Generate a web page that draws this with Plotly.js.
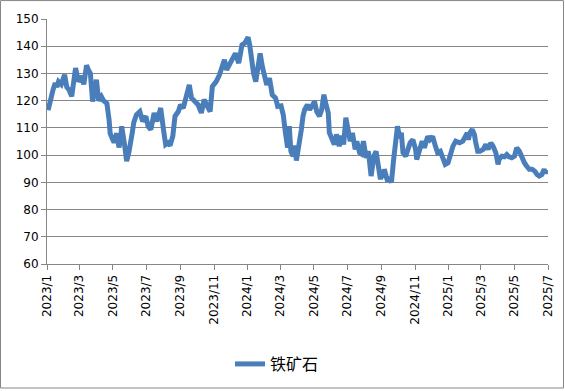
<!DOCTYPE html>
<html>
<head>
<meta charset="utf-8">
<script src="https://cdn.plot.ly/plotly-3.0.1.min.js"></script>
<style>html,body{margin:0;padding:0;background:#fff;}#chart{width:565px;height:391px;}</style>
</head>
<body>
<div id="chart"></div>
<script>
var seriesName = "铁矿石";
var dates = [
"2023-01-03","2023-01-05","2023-01-09","2023-01-12","2023-01-16","2023-01-19","2023-01-22","2023-01-27",
"2023-02-02","2023-02-06","2023-02-10","2023-02-15","2023-02-18","2023-02-22","2023-02-27",
"2023-03-02","2023-03-05","2023-03-09","2023-03-14","2023-03-17","2023-03-21","2023-03-25","2023-03-28",
"2023-04-01","2023-04-05","2023-04-10","2023-04-14","2023-04-20","2023-04-24","2023-04-26","2023-04-30",
"2023-05-03","2023-05-08","2023-05-12","2023-05-15","2023-05-17","2023-05-22","2023-05-26","2023-05-30",
"2023-06-01","2023-06-05","2023-06-08","2023-06-13","2023-06-19","2023-06-24","2023-06-30",
"2023-07-04","2023-07-09","2023-07-15","2023-07-20","2023-07-27",
"2023-08-01","2023-08-05","2023-08-09","2023-08-13","2023-08-18","2023-08-22","2023-08-28",
"2023-09-01","2023-09-06","2023-09-11","2023-09-17","2023-09-21","2023-09-27",
"2023-10-03","2023-10-09","2023-10-14","2023-10-20","2023-10-25","2023-10-29",
"2023-11-05","2023-11-11","2023-11-16","2023-11-20","2023-11-24","2023-11-30",
"2023-12-05","2023-12-10","2023-12-16","2023-12-22","2023-12-27",
"2024-01-02","2024-01-05","2024-01-08","2024-01-12","2024-01-16","2024-01-20","2024-01-24","2024-01-28",
"2024-02-01","2024-02-05","2024-02-10","2024-02-15","2024-02-21","2024-02-25",
"2024-03-02","2024-03-06","2024-03-10","2024-03-14","2024-03-17","2024-03-20","2024-03-24","2024-03-27","2024-03-30",
"2024-04-03","2024-04-05","2024-04-08","2024-04-11","2024-04-14","2024-04-19","2024-04-23","2024-04-27",
"2024-05-02","2024-05-06","2024-05-11","2024-05-15","2024-05-19","2024-05-23","2024-05-27","2024-05-29",
"2024-06-02","2024-06-07","2024-06-11","2024-06-16","2024-06-20","2024-06-24","2024-06-28",
"2024-07-01","2024-07-06","2024-07-10","2024-07-15","2024-07-18","2024-07-23","2024-07-26","2024-07-30",
"2024-08-04","2024-08-08","2024-08-13","2024-08-18","2024-08-22","2024-08-26","2024-08-30",
"2024-09-02","2024-09-04","2024-09-06","2024-09-11","2024-09-16","2024-09-19","2024-09-23","2024-09-26","2024-09-30",
"2024-10-04","2024-10-07","2024-10-10","2024-10-15","2024-10-19","2024-10-23","2024-10-28",
"2024-11-02","2024-11-04","2024-11-09","2024-11-14","2024-11-18","2024-11-24","2024-11-28",
"2024-12-03","2024-12-08","2024-12-12","2024-12-17","2024-12-21","2024-12-26","2024-12-31",
"2025-01-04","2025-01-09","2025-01-14","2025-01-21","2025-01-27",
"2025-02-01","2025-02-04","2025-02-06","2025-02-09","2025-02-13","2025-02-17","2025-02-19","2025-02-23","2025-02-27",
"2025-03-05","2025-03-10","2025-03-14","2025-03-19","2025-03-23","2025-03-28",
"2025-04-01","2025-04-03","2025-04-08","2025-04-13","2025-04-17","2025-04-21","2025-04-26",
"2025-05-01","2025-05-05","2025-05-10","2025-05-14","2025-05-19","2025-05-23","2025-05-28",
"2025-06-02","2025-06-07","2025-06-11","2025-06-15","2025-06-20","2025-06-24","2025-06-26","2025-06-30"
];
var values = [
116.5,119,121.5,124,126.5,125,127,126,
129.5,125,124,121.6,127,132,127,
128,129,126,133,131.5,130,119.7,124,
127.7,120,121.5,120,119,113,108,106,
104.6,108,102.8,106,110.6,104,97.8,101,
104.6,108,112,114.9,116,112.4,114.3,
110.6,109.4,115.5,112.4,117.3,
109.4,103.9,104.5,103.5,106.9,114.3,116,
118.5,117.3,121.6,125.8,121,119.7,
118.5,115.5,120.4,117.9,116,125.2,
127,129.5,132.5,135,131.3,133.8,
136.2,137.4,133.8,140.5,141.1,
143.3,140.5,135,130.1,127,132.5,137.4,132.5,
129.5,125.8,128.3,122.2,121,117.9,
118.1,114.9,108.2,102.7,110.6,101.4,99.6,103.5,98,
102.5,105.7,109.4,114.3,116.7,118.5,116.7,117.9,
119.7,116,114.3,116.7,122.2,118.5,115.5,108.2,
105.7,103.9,107.6,103.3,107.1,103.9,113.7,
110.6,105.1,108.2,102.1,105.1,100.9,100.5,105.1,
99,101.4,92.3,99.6,101.4,95.4,91.1,
94,91.7,94.8,91.1,91.3,89.9,98.4,105.7,110.6,
106.3,108.2,100.9,99.6,102.1,104.5,105.7,
102.1,98.4,102.1,105.1,102.7,106.9,105.7,
106.9,103.3,100.9,101.4,99,96.6,97.2,
100.2,103.3,105.1,104.5,105.1,
106.9,108.2,105.7,108.2,109.4,107.6,105.1,101.4,101.4,
102.1,103.9,102.1,104.5,103.3,100.9,
96.6,98.4,99.6,99.4,100.2,99.4,99,
99.6,102.7,101.4,99,97.2,96,94.8,
94.8,94.1,92.9,92.3,92.9,94.8,93.5,94.5
];
var tickDates = ["2023-01-01","2023-03-01","2023-05-01","2023-07-01","2023-09-01","2023-11-01",
"2024-01-01","2024-03-01","2024-05-01","2024-07-01","2024-09-01","2024-11-01",
"2025-01-01","2025-03-01","2025-05-01","2025-07-01"];
var tickLabels = ["2023/1","2023/3","2023/5","2023/7","2023/9","2023/11",
"2024/1","2024/3","2024/5","2024/7","2024/9","2024/11",
"2025/1","2025/3","2025/5","2025/7"];
var yTicks = [60,70,80,90,100,110,120,130,140,150];

var L = 47, R = 17, T = 19, B = 126, W = 565, H = 391;
var pw = W - L - R, ph = H - T - B;

var trace = {
  x: dates, y: values, type: 'scatter', mode: 'lines', name: seriesName,
  line: {color: '#4A7EBB', width: 5}
};
var layout = {
  width: W, height: H,
  margin: {l: L, r: R, t: T, b: B, pad: 0},
  paper_bgcolor: '#ffffff', plot_bgcolor: '#ffffff',
  font: {family: 'DejaVu Sans, Verdana, sans-serif', size: 12, color: '#000'},
  showlegend: true,
  legend: {orientation: 'h', x: (277 - L) / pw, xanchor: 'center', y: (T + ph - 364) / ph, yanchor: 'middle',
           font: {family: 'Noto Sans CJK SC, sans-serif', size: 16, color: '#000'}},
  xaxis: {
    type: 'date', range: ['2023-01-01', '2025-07-01'],
    tickmode: 'array', tickvals: tickDates, ticktext: tickLabels,
    tickangle: -90, ticks: 'outside', ticklen: 5, tickcolor: '#868686',
    showgrid: false, zeroline: false, showline: true, linecolor: '#868686', linewidth: 1,
    tickfont: {family: 'DejaVu Sans, Verdana, sans-serif', size: 12, color: '#000'}, fixedrange: true
  },
  yaxis: {
    range: [60, 150], tickmode: 'array', tickvals: yTicks,
    ticks: 'outside', ticklen: 5, tickcolor: '#868686',
    showgrid: true, gridcolor: '#868686', gridwidth: 1,
    zeroline: false, showline: true, linecolor: '#868686', linewidth: 1,
    tickfont: {family: 'DejaVu Sans, Verdana, sans-serif', size: 12, color: '#000'}, fixedrange: true
  },
  shapes: [{
    type: 'rect', xref: 'paper', yref: 'paper',
    x0: (0.5 - L) / pw, x1: (W - 1.5 - L) / pw,
    y0: (T + ph - (H - 1.5)) / ph, y1: (T + ph - 0.5) / ph,
    line: {color: '#868686', width: 1}, fillcolor: 'rgba(0,0,0,0)'
  }]
};
Plotly.newPlot('chart', [trace], layout, {displayModeBar: false, staticPlot: true});
</script>
</body>
</html>
